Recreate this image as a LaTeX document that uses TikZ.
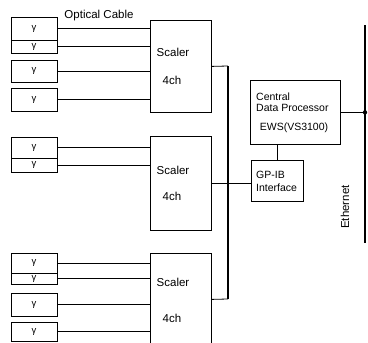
\documentclass[tikz,border=0pt]{standalone}
\usepackage{fontspec}
\setmainfont{Liberation Sans}
\usetikzlibrary{calc}
\begin{document}
\begin{tikzpicture}[x=1pt,y=-1pt,
  gbox/.style={draw, line width=0.8pt, inner sep=0pt, minimum width=46pt, font=\fontsize{9.5}{10}\selectfont},
  unit/.style={draw, line width=0.8pt, inner sep=0pt, anchor=north west},
  lbl/.style={font=\fontsize{10.5}{12}\selectfont, inner sep=0pt},
  biglbl/.style={font=\fontsize{11.5}{13}\selectfont, inner sep=0pt},
  wire/.style={line width=0.8pt},
  bus/.style={line width=1.4pt},
  ebus/.style={line width=2.6pt}]
\useasboundingbox (0,0) rectangle (368,343);
\clip (0,0) rectangle (368,343);

% ---- top group
\node[gbox, minimum height=23pt] (g1) at (34,28.5) {γ};
\node[gbox, minimum height=13pt] (g2) at (34,46.5) {γ};
\node[gbox, minimum height=22pt] (g3) at (34,71) {γ};
\node[gbox, minimum height=23pt] (g4) at (34,99.5) {γ};
\node[unit, minimum width=61pt, minimum height=92pt] (s1) at (150,20) {};
\node[biglbl] (s1a) at (173,52) {Scaler};
\node[biglbl] (s1b) at (172,80) {4ch};
\node[biglbl] (oc) at (99,16) {Optical Cable};
\foreach \g in {g1,g2,g3,g4} \draw[wire] (\g.east) -- (s1.west |- \g.east);

% ---- middle group
\node[gbox, minimum height=21pt] (m1) at (34,147.5) {γ};
\node[gbox, minimum height=14pt] (m2) at (34,165) {γ};
\node[unit, minimum width=61pt, minimum height=94pt] (s2) at (150,136) {};
\node[biglbl] (s2a) at (173,170) {Scaler};
\node[biglbl] (s2b) at (172,196) {4ch};
\foreach \g in {m1,m2} \draw[wire] (\g.east) -- (s2.west |- \g.east);

% ---- bottom group
\node[gbox, minimum height=20pt] (b1) at (34,263) {γ};
\node[gbox, minimum height=11pt] (b2) at (34,278.5) {γ};
\node[gbox, minimum height=23pt] (b3) at (34,304.5) {γ};
\node[gbox, minimum height=19pt] (b4) at (34,331.5) {γ};
\node[unit, minimum width=61pt, minimum height=99pt] (s3) at (150,253) {};
\node[biglbl] (s3a) at (173,282) {Scaler};
\node[biglbl] (s3b) at (172,318) {4ch};
\foreach \g in {b1,b2,b3,b4} \draw[wire] (\g.east) -- (s3.west |- \g.east);

% ---- scaler bus
\coordinate (busT) at (228,66);
\coordinate (busB) at (228,299);
\draw[wire] (s1.east) -- (busT);
\draw[wire] ([yshift=3.5pt]s3.east) -- (busB);
\draw[bus] (busT) -- (busB);

% ---- central data processor
\node[unit, minimum width=90pt, minimum height=64pt] (cdp) at (250,80) {};
\node[lbl, anchor=west] (cdp1) at (256,97) {Central};
\node[lbl, anchor=west] (cdp2) at (256,108) {Data Processor};
\node[lbl] (cdp3) at (294,128) {EWS(VS3100)};

% ---- GP-IB interface
\node[unit, minimum width=52pt, minimum height=41pt] (gp) at (251,160) {};
\node[lbl, anchor=west] (gp1) at (256,175) {GP-IB};
\node[lbl, anchor=west] (gp2) at (256,188) {Interface};
\coordinate (cdpb) at ($(cdp.south west)!0.3!(cdp.south east)$);
\draw[wire] (cdpb) -- (cdpb |- gp.north);
\draw[wire] (s2.east) -- (gp.west |- s2.east);

% ---- ethernet
\coordinate (e1) at (365,25);
\coordinate (e2) at (365,243);
\draw[ebus] (e1) -- (e2);
\draw[bus] (cdp.east) -- (e1 |- cdp.east);
\fill (e1 |- cdp.east) circle (2.2pt);
\node[biglbl, rotate=90] (eth) at (345,207) {Ethernet};
\end{tikzpicture}
\end{document}
